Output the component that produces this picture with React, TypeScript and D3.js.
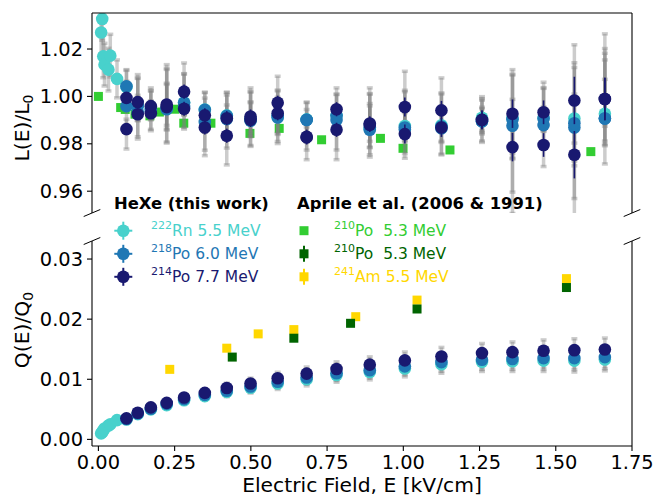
import React from "react";
import * as d3 from "d3";

// ---------- data ----------
const fieldE = [0.092, 0.129, 0.172, 0.224, 0.281, 0.349, 0.421, 0.499, 0.588, 0.683, 0.781, 0.89, 1.005, 1.125, 1.258, 1.358, 1.46, 1.561, 1.661];

// light yield L(E)/L0 (two runs per isotope)
const po214TopA = [0.9994, 0.9976, 0.9959, 0.9966, 1.002, 0.992, 0.9908, 0.9915, 0.9973, 0.983, 0.9946, 0.9886, 0.9955, 0.9941, 0.9901, 0.9927, 0.9933, 0.9983, 0.9989];
const po214TopB = [0.9862, 0.9925, 0.9929, 0.9955, 0.9948, 0.9869, 0.9834, 0.9901, 0.9929, 0.9827, 0.9859, 0.988, 0.9841, 0.9869, 0.9901, 0.9786, 0.9795, 0.9754, 0.9989];
const po218TopA = [1.0043, 0.996, 0.9945, 0.9946, 0.9973, 0.9943, 0.9918, 0.9897, 0.9911, 0.9901, 0.9918, 0.9859, 0.9869, 0.9873, 0.9895, 0.9904, 0.9907, 0.9887, 0.9907];
const po218TopB = [0.9959, 0.9935, 0.9935, 0.995, 0.9955, 0.9892, 0.9905, 0.9905, 0.992, 0.9901, 0.99, 0.987, 0.986, 0.9865, 0.9895, 0.9876, 0.9879, 0.9869, 0.9907];
const rn222Top = [1.004, 0.9962, 0.9948, 0.995, 0.9975, 0.9945, 0.992, 0.99, 0.9915, 0.9903, 0.992, 0.9862, 0.9875, 0.9878, 0.991, 0.9908, 0.991, 0.9907, 0.9927];
const sysErrUpper = [0.007, 0.0116, 0.0077, 0.0168, 0.0121, 0.0073, 0.0098, 0.0121, 0.0112, 0.0073, 0.009, 0.015, 0.0151, 0.0137, 0.0089, 0.0186, 0.0127, 0.0235, 0.0275];
const sysErrLower = [0.0084, 0.0105, 0.0074, 0.0147, 0.0086, 0.0119, 0.0123, 0.0112, 0.0119, 0.0094, 0.0126, 0.0126, 0.0102, 0.0112, 0.0089, 0.028, 0.0091, 0.03, 0.0192];
const po214StatErr = [0.002, 0.002, 0.002, 0.002, 0.003, 0.003, 0.003, 0.003, 0.003, 0.003, 0.003, 0.003, 0.004, 0.004, 0.004, 0.006, 0.005, 0.01, 0.009];

// low-field 222Rn points
const rnLowE = [0.009, 0.0125, 0.016, 0.02, 0.033, 0.039, 0.061];
const rnLowTop = [1.027, 1.0327, 1.0169, 1.0134, 1.0113, 1.0172, 1.0074];
const rnLowErr = [0.009, 0.009, 0.009, 0.009, 0.009, 0.009, 0.008];
const rnLowQ = [0.001, 0.0012, 0.0015, 0.0018, 0.0023, 0.0025, 0.0032];

// charge yield Q(E)/Q0
const po214Q = [0.0035, 0.00443, 0.00532, 0.00608, 0.00698, 0.00774, 0.00856, 0.00929, 0.01017, 0.01094, 0.0117, 0.01243, 0.01314, 0.0138, 0.01435, 0.01451, 0.01474, 0.01484, 0.01496];
const po218Q = [0.0034, 0.0043, 0.0051, 0.0059, 0.0067, 0.0074, 0.0081, 0.0088, 0.0096, 0.0103, 0.011, 0.0115, 0.01215, 0.01286, 0.01326, 0.01336, 0.01352, 0.01352, 0.01369];
const rn222Q = [0.0033, 0.0042, 0.005, 0.0057, 0.0065, 0.0072, 0.0079, 0.0086, 0.0093, 0.01, 0.0107, 0.0112, 0.0118, 0.0125, 0.0129, 0.013, 0.0131, 0.0131, 0.0133];
const qSysErr = [0.0003, 0.0004, 0.0004, 0.0005, 0.0005, 0.0006, 0.0008, 0.0009, 0.001, 0.0011, 0.0012, 0.0013, 0.0014, 0.0015, 0.0016, 0.0017, 0.0018, 0.0019, 0.0019];

// Aprile et al.
const aprilePoLE = [0, 0.073, 0.088, 0.12, 0.169, 0.2, 0.25, 0.28, 0.369, 0.497, 0.593, 0.732, 0.925, 0.999, 1.153, 1.615];
const aprilePoL = [1.0, 0.9953, 0.9945, 0.9925, 0.9918, 0.9934, 0.9946, 0.9887, 0.9887, 0.9844, 0.9865, 0.9817, 0.9823, 0.9781, 0.9774, 0.9767];
const aprilePoQE = [0.439, 0.641, 0.827, 1.045, 1.535];
const aprilePoQ = [0.01369, 0.01683, 0.01931, 0.02169, 0.02526];
const aprileAmE = [0.234, 0.421, 0.524, 0.641, 0.844, 1.045, 1.535];
const aprileAmQ = [0.01165, 0.01517, 0.01755, 0.01826, 0.02041, 0.02317, 0.02674];

const xTicks = [0, 0.25, 0.5, 0.75, 1.0, 1.25, 1.5, 1.75];
const yTopTicks = [0.96, 0.98, 1.0, 1.02];
const yBotTicks = [0.0, 0.01, 0.02, 0.03];

// ---------- style ----------
const C_RN = "#48D1CC";
const C_PO218 = "#1f77b4";
const C_PO214 = "#191970";
const C_LIME = "#32CD32";
const C_DKGREEN = "#006400";
const C_GOLD = "#FFD700";
const FONT = "DejaVu Sans";
const TICK_FS = 19.4;
const LABEL_FS = 20.3;

const L = 92, R = 632, T1 = 13, B1 = 213, T2 = 241, B2 = 446;
const x = d3.scaleLinear().domain([-0.021, 1.75]).range([L, R]);
const yTop = d3.scaleLinear().domain([0.9508, 1.0352]).range([B1, T1]);
const yBot = d3.scaleLinear().domain([-0.0011, 0.033]).range([B2, T2]);
const MR = 6.3;
const SQ = 9;

function GrayBar({ cx, y0, y1 }: { cx: number; y0: number; y1: number }) {
  return (
    <g stroke="gray" strokeOpacity={0.4} strokeWidth={3.5}>
      <line x1={cx} x2={cx} y1={y0} y2={y1} />
      <line x1={cx - 3} x2={cx + 3} y1={y0} y2={y0} />
      <line x1={cx - 3} x2={cx + 3} y1={y1} y2={y1} />
    </g>
  );
}

function Sup({ x0, y0, sup, text, color }: { x0: number; y0: number; sup: string; text: string; color: string }) {
  return (
    <text x={x0} y={y0} fill={color} fontFamily={FONT} fontSize={15.5} dominantBaseline="central">
      <tspan fontSize={11} dy={-6}>{sup}</tspan>
      <tspan dy={6}>{text}</tspan>
    </text>
  );
}

export default function App() {
  const topSeries = [
    { v: rn222Top, c: C_RN, up: true },
    { v: po218TopB, c: C_PO218, up: false },
    { v: po218TopA, c: C_PO218, up: true },
    { v: po214TopB, c: C_PO214, up: false },
    { v: po214TopA, c: C_PO214, up: true },
  ];
  const botSeries = [
    { v: rn222Q, c: C_RN },
    { v: po218Q, c: C_PO218 },
    { v: po214Q, c: C_PO214 },
  ];
  const brk = (cx: number, cy: number, k: string) => (
    <line key={k} x1={cx - 8.3} y1={cy + 3.5} x2={cx + 8.3} y2={cy - 3.5} stroke="#000" strokeWidth={1} />
  );
  return (
    <svg width={664} height={496} style={{ position: "absolute", left: 0, top: 0, background: "#fff" }}>
      <defs>
        <clipPath id="ctop"><rect x={L} y={T1} width={R - L} height={B1 - T1} /></clipPath>
        <clipPath id="cbot"><rect x={L} y={T2} width={R - L} height={B2 - T2} /></clipPath>
      </defs>
      <rect x={0} y={0} width={664} height={496} fill="#fff" />

      {/* ---- top panel ---- */}
      <g clipPath="url(#ctop)">
        {aprilePoLE.map((e, i) => (
          <rect key={"ag" + i} x={x(e) - SQ / 2} y={yTop(aprilePoL[i]) - SQ / 2} width={SQ} height={SQ} fill={C_LIME} />
        ))}
        {rnLowE.map((e, i) => (
          <GrayBar key={"rlb" + i} cx={x(e)} y0={yTop(rnLowTop[i] + rnLowErr[i])} y1={yTop(rnLowTop[i] - rnLowErr[i])} />
        ))}
        {topSeries.map((s, si) =>
          fieldE.map((e, i) => (
            <GrayBar key={"tb" + si + "_" + i} cx={x(e)}
              y0={yTop(s.v[i] + (s.up ? sysErrUpper[i] : sysErrUpper[i] * 0.6))}
              y1={yTop(s.v[i] - (s.up ? sysErrLower[i] * 0.6 : sysErrLower[i]))} />
          ))
        )}
        {rnLowE.map((e, i) => (
          <circle key={"rl" + i} cx={x(e)} cy={yTop(rnLowTop[i])} r={MR} fill={C_RN} />
        ))}
        {topSeries.map((s, si) =>
          fieldE.map((e, i) => (
            <g key={"tm" + si + "_" + i}>
              {s.c === C_PO214 && (
                <line x1={x(e)} x2={x(e)} y1={yTop(s.v[i] + po214StatErr[i])} y2={yTop(s.v[i] - po214StatErr[i])} stroke={C_PO214} strokeWidth={1.6} />
              )}
              <circle cx={x(e)} cy={yTop(s.v[i])} r={MR} fill={s.c} />
            </g>
          ))
        )}
      </g>
      <line x1={L} x2={L} y1={T1} y2={B1} stroke="#000" strokeWidth={1.1} />
      <line x1={R} x2={R} y1={T1} y2={B1} stroke="#000" strokeWidth={1.1} />
      <line x1={L} x2={R} y1={T1} y2={T1} stroke="#000" strokeWidth={1.1} />
      {yTopTicks.map((t) => (
        <g key={"yt" + t}>
          <line x1={L - 5} x2={L} y1={yTop(t)} y2={yTop(t)} stroke="#000" strokeWidth={1.1} />
          <text x={L - 9} y={yTop(t)} textAnchor="end" dominantBaseline="central" fontFamily={FONT} fontSize={TICK_FS}>{d3.format(".2f")(t)}</text>
        </g>
      ))}

      {/* ---- bottom panel ---- */}
      <g clipPath="url(#cbot)">
        {botSeries.map((s, si) =>
          fieldE.map((e, i) => (
            <GrayBar key={"bb" + si + "_" + i} cx={x(e)} y0={yBot(s.v[i] + qSysErr[i])} y1={yBot(s.v[i] - qSysErr[i])} />
          ))
        )}
        {aprileAmE.map((e, i) => (
          <rect key={"am" + i} x={x(e) - SQ / 2} y={yBot(aprileAmQ[i]) - SQ / 2} width={SQ} height={SQ} fill={C_GOLD} />
        ))}
        {aprilePoQE.map((e, i) => (
          <rect key={"dg" + i} x={x(e) - SQ / 2} y={yBot(aprilePoQ[i]) - SQ / 2} width={SQ} height={SQ} fill={C_DKGREEN} />
        ))}
        {rnLowE.map((e, i) => (
          <circle key={"rq" + i} cx={x(e)} cy={yBot(rnLowQ[i])} r={MR} fill={C_RN} />
        ))}
        {botSeries.map((s, si) =>
          fieldE.map((e, i) => (
            <circle key={"bm" + si + "_" + i} cx={x(e)} cy={yBot(s.v[i])} r={MR} fill={s.c} />
          ))
        )}
      </g>
      <line x1={L} x2={L} y1={T2} y2={B2} stroke="#000" strokeWidth={1.1} />
      <line x1={R} x2={R} y1={T2} y2={B2} stroke="#000" strokeWidth={1.1} />
      <line x1={L} x2={R} y1={B2} y2={B2} stroke="#000" strokeWidth={1.1} />
      {yBotTicks.map((t) => (
        <g key={"yb" + t}>
          <line x1={L - 5} x2={L} y1={yBot(t)} y2={yBot(t)} stroke="#000" strokeWidth={1.1} />
          <text x={L - 9} y={yBot(t)} textAnchor="end" dominantBaseline="central" fontFamily={FONT} fontSize={TICK_FS}>{d3.format(".2f")(t)}</text>
        </g>
      ))}
      {xTicks.map((t) => (
        <g key={"xt" + t}>
          <line x1={x(t)} x2={x(t)} y1={B2} y2={B2 + 5} stroke="#000" strokeWidth={1.1} />
          <text x={x(t)} y={B2 + 9} textAnchor="middle" dominantBaseline="hanging" fontFamily={FONT} fontSize={TICK_FS}>{d3.format(".2f")(t)}</text>
        </g>
      ))}

      {/* break marks */}
      {brk(L, B1, "b1")}{brk(R, B1, "b2")}{brk(L, T2, "b3")}{brk(R, T2, "b4")}

      {/* axis labels */}
      <text x={(L + R) / 2} y={492} textAnchor="middle" fontFamily={FONT} fontSize={LABEL_FS}>Electric Field, E [kV/cm]</text>
      <text transform="translate(29,128) rotate(-90)" textAnchor="middle" fontFamily={FONT} fontSize={LABEL_FS}>
        L(E)/L<tspan fontSize={14} dy={4}>0</tspan>
      </text>
      <text transform="translate(29,330) rotate(-90)" textAnchor="middle" fontFamily={FONT} fontSize={LABEL_FS}>
        Q(E)/Q<tspan fontSize={14} dy={4}>0</tspan>
      </text>

      {/* legend */}
      <text x={114} y={203.5} dominantBaseline="central" fontFamily={FONT} fontSize={16.4} fontWeight="bold">HeXe (this work)</text>
      <text x={297} y={203.5} dominantBaseline="central" fontFamily={FONT} fontSize={16.4} fontWeight="bold">Aprile et al. (2006 &amp; 1991)</text>
      {[
        { c: C_RN, sup: "222", t: "Rn 5.5 MeV", y: 230.7 },
        { c: C_PO218, sup: "218", t: "Po 6.0 MeV", y: 253.8 },
        { c: C_PO214, sup: "214", t: "Po 7.7 MeV", y: 276.8 },
      ].map((r) => (
        <g key={r.sup}>
          <line x1={123.3 - 9} x2={123.3 + 9} y1={r.y} y2={r.y} stroke={r.c} strokeWidth={2} />
          <line x1={123.3} x2={123.3} y1={r.y - 9} y2={r.y + 9} stroke={r.c} strokeWidth={2} />
          <circle cx={123.3} cy={r.y} r={MR} fill={r.c} />
          <Sup x0={151} y0={r.y} sup={r.sup} text={r.t} color={r.c} />
        </g>
      ))}
      {[
        { c: C_LIME, sup: "210", t: "Po\u00A0\u00A05.3 MeV", y: 230.7, bar: false },
        { c: C_DKGREEN, sup: "210", t: "Po\u00A0\u00A05.3 MeV", y: 253.8, bar: true },
        { c: C_GOLD, sup: "241", t: "Am 5.5 MeV", y: 276.8, bar: true },
      ].map((r, i) => (
        <g key={"ap" + i}>
          {r.bar && <line x1={304} x2={304} y1={r.y - 8} y2={r.y + 8} stroke={r.c} strokeWidth={2} />}
          <rect x={304 - SQ / 2} y={r.y - SQ / 2} width={SQ} height={SQ} fill={r.c} />
          <Sup x0={334} y0={r.y} sup={r.sup} text={r.t} color={r.c} />
        </g>
      ))}
    </svg>
  );
}
